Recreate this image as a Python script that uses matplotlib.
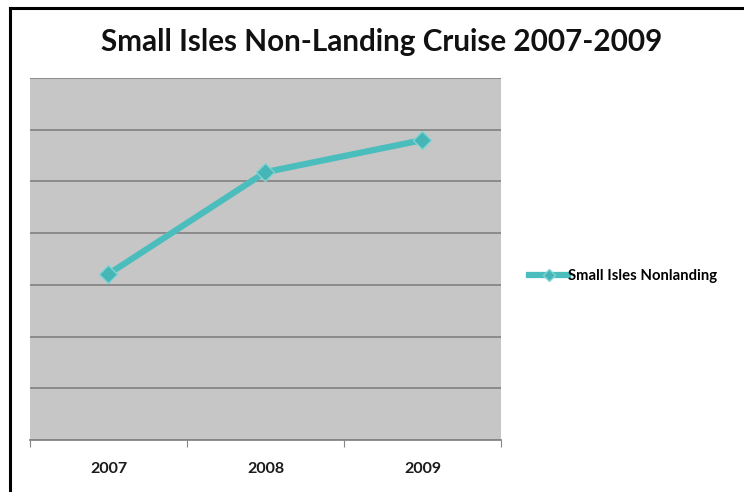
import numpy as np
import matplotlib.pyplot as plt
from matplotlib.lines import Line2D

# data (y scale has no visible labels)
years = ["2007", "2008", "2009"]
values = [32.1, 51.8, 58.0]
series_name = "Small Isles Nonlanding"
title = "Small Isles Non-Landing Cruise 2007-2009"

plt.rcParams['font.family'] = ['Lato', 'DejaVu Sans']

fig = plt.figure(figsize=(7.44, 4.92), dpi=100)
ax = fig.add_axes([30/744, 1 - 440/492, 471/744, 362/492])

ax.set_facecolor('#c6c6c6')
x = np.arange(len(years)) + 0.5
ax.plot(x, values, color='#4bbdbd', lw=4.5, marker='D', ms=9,
        mfc='#45b5b5', mec='#7fd3d3', mew=1, zorder=3)

ax.set_xlim(0, len(years))
ax.set_ylim(0, 70)
ax.set_yticks(np.arange(0, 71, 10))
ax.yaxis.grid(True, color='#868686', lw=1.3)
ax.set_axisbelow(True)
ax.tick_params(axis='y', length=0, labelleft=False)

ax.set_xticks(np.arange(len(years) + 1))
ax.set_xticks(x, minor=True)
ax.set_xticklabels([])
ax.set_xticklabels(years, minor=True, fontsize=11.5, fontweight='bold', color='#1a1a1a')
ax.tick_params(axis='x', which='major', length=5, color='#868686', direction='out')
ax.tick_params(axis='x', which='minor', length=0, pad=16)

for s in ['top', 'right', 'left']:
    ax.spines[s].set_visible(False)
ax.spines['bottom'].set_color('#868686')
ax.spines['bottom'].set_linewidth(1.3)

fig.text(382/744, 1 - 42/492, title, ha='center', va='center',
         fontsize=21.3, fontweight='bold', color='#111111')

handle = Line2D([], [], color='#4bbdbd', lw=4.5, marker='D', ms=6,
                mfc='#45b5b5', mec='#7fd3d3')
fig.legend([handle], [series_name], loc='center left',
           bbox_to_anchor=(522/744, 1 - 276/492), frameon=False,
           handlelength=2.6, handletextpad=0.0,
           borderpad=0, prop={'weight': 'bold', 'size': 10.7})

# outer frame (left and top edges visible in the reference)
fig.add_artist(Line2D([10/744, 10/744], [0, 1 - 8/492], color='black', lw=2.2,
                      transform=fig.transFigure))
fig.add_artist(Line2D([10/744, 1], [1 - 8/492, 1 - 8/492], color='black', lw=2.2,
                      transform=fig.transFigure))

fig.savefig('out.png', dpi=100)
